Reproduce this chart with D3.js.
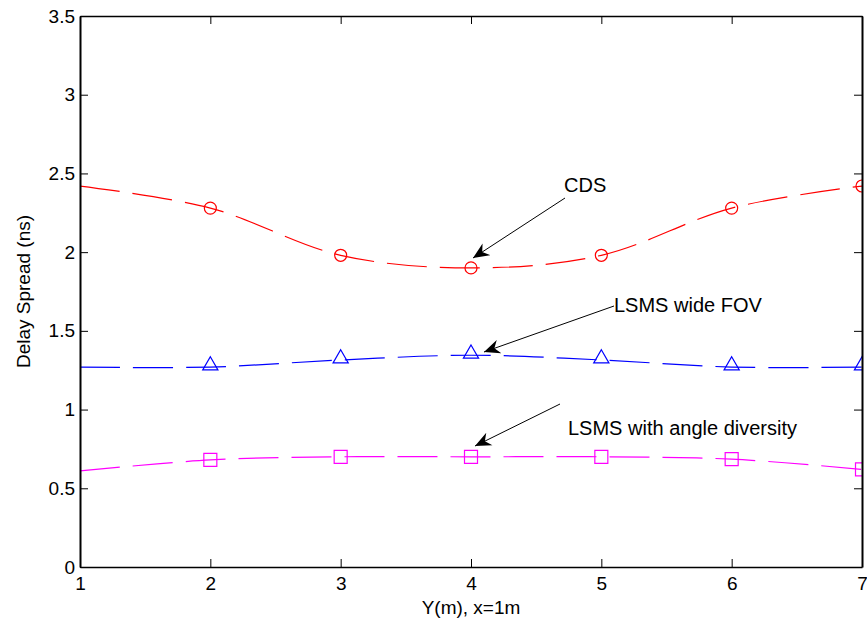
<!DOCTYPE html>
<html>
<head>
<meta charset="utf-8">
<script src="https://cdn.jsdelivr.net/npm/d3@7"></script>
<style>
  body { margin: 0; background: #fff; }
  text { font-family: "Liberation Sans", Arial, sans-serif; }
</style>
</head>
<body>
<div id="chart"></div>
<script>
// data
var yPos = [1, 2, 3, 4, 5, 6, 7];
var cds = [2.42, 2.28, 1.98, 1.90, 1.98, 2.28, 2.42];
var lsmsWide = [1.27, 1.27, 1.315, 1.345, 1.315, 1.27, 1.27];
var lsmsAngle = [0.61, 0.68, 0.70, 0.70, 0.70, 0.685, 0.62];
var xTicks = [1, 2, 3, 4, 5, 6, 7];
var yTicks = [0, 0.5, 1, 1.5, 2, 2.5, 3, 3.5];

var W = 867, H = 623;
var pLeft = 80, pRight = 862, pTop = 16, pBottom = 567;

var svg = d3.select("#chart").append("svg")
    .attr("width", W)
    .attr("height", H);

var x = d3.scaleLinear().domain([1, 7]).range([pLeft, pRight]);
var y = d3.scaleLinear().domain([0, 3.5]).range([pBottom, pTop]);

var defs = svg.append("defs");
defs.append("clipPath")
    .attr("id", "plotclip")
    .append("rect")
    .attr("x", pLeft).attr("y", pTop)
    .attr("width", pRight - pLeft).attr("height", pBottom - pTop);

defs.append("marker")
    .attr("id", "head")
    .attr("viewBox", "-16 -8 17 16")
    .attr("refX", 0).attr("refY", 0)
    .attr("markerWidth", 17).attr("markerHeight", 16)
    .attr("markerUnits", "userSpaceOnUse")
    .attr("orient", "auto")
    .append("path")
    .attr("d", "M0,0 L-16,-7 L-11,0 L-16,7 Z")
    .attr("fill", "#000");

// series
var series = [
  { vals: cds, color: "#ff0000", marker: "circle" },
  { vals: lsmsWide, color: "#0000ff", marker: "triangle" },
  { vals: lsmsAngle, color: "#ff00ff", marker: "square" }
];

var plot = svg.append("g").attr("clip-path", "url(#plotclip)");

var line = d3.line()
    .x(function (d) { return x(d[0]); })
    .y(function (d) { return y(d[1]); })
    .curve(d3.curveCatmullRom.alpha(0.5));

series.forEach(function (s) {
  var pts = yPos.map(function (v, i) { return [v, s.vals[i]]; });
  plot.append("path")
      .datum(pts)
      .attr("fill", "none")
      .attr("stroke", s.color)
      .attr("stroke-width", 1.2)
      .attr("stroke-dasharray", "40,13")
      .attr("d", line);

  var sym;
  if (s.marker === "circle") sym = d3.symbol().type(d3.symbolCircle).size(Math.PI * 36);
  else if (s.marker === "triangle") sym = d3.symbol().type(d3.symbolTriangle).size(100);
  else sym = d3.symbol().type(d3.symbolSquare).size(169);

  plot.selectAll(null)
      .data(pts.slice(1))
      .enter()
      .append("path")
      .attr("transform", function (d) {
        var dy = s.marker === "triangle" ? -1.5 : 0;
        return "translate(" + x(d[0]) + "," + (y(d[1]) + dy) + ")";
      })
      .attr("d", sym)
      .attr("fill", "none")
      .attr("stroke", s.color)
      .attr("stroke-width", 1.2);
});

// axes with inward ticks
svg.append("g")
    .attr("transform", "translate(0," + pBottom + ")")
    .call(d3.axisBottom(x).tickValues(xTicks).tickSizeInner(-8).tickSizeOuter(0).tickPadding(10).tickFormat(d3.format("d")))
    .call(function (g) {
      g.select(".domain").attr("stroke-width", 1.5);
      g.selectAll("text").attr("font-size", 19).attr("fill", "#000");
    });

svg.append("g")
    .attr("transform", "translate(" + pLeft + ",0)")
    .call(d3.axisLeft(y).tickValues(yTicks).tickSizeInner(-8).tickSizeOuter(0).tickPadding(5).tickFormat(function (d) { return d; }))
    .call(function (g) {
      g.select(".domain").attr("stroke-width", 2);
      g.selectAll("text").attr("font-size", 19).attr("fill", "#000");
    });

svg.append("g")
    .attr("transform", "translate(0," + pTop + ")")
    .call(d3.axisTop(x).tickValues(xTicks).tickSizeInner(-8).tickSizeOuter(0).tickFormat(""))
    .call(function (g) { g.select(".domain").attr("stroke-width", 1.5); });

svg.append("g")
    .attr("transform", "translate(" + pRight + ",0)")
    .call(d3.axisRight(y).tickValues(yTicks).tickSizeInner(-8).tickSizeOuter(0).tickFormat(""))
    .call(function (g) { g.select(".domain").attr("stroke-width", 2); });

// axis labels
svg.append("text")
    .attr("x", (pLeft + pRight) / 2)
    .attr("y", 614)
    .attr("text-anchor", "middle")
    .attr("font-size", 19)
    .text("Y(m), x=1m");

svg.append("text")
    .attr("transform", "translate(30," + (pTop + pBottom) / 2 + ") rotate(-90)")
    .attr("text-anchor", "middle")
    .attr("font-size", 19)
    .text("Delay Spread (ns)");

// annotations
var notes = [
  { label: "CDS", tx: 564, ty: 192, from: [565, 198], to: [473, 258] },
  { label: "LSMS wide FOV", tx: 614, ty: 312, from: [614, 306], to: [484, 352] },
  { label: "LSMS with angle diversity", tx: 568, ty: 435, from: [560, 404], to: [475, 446] }
];

notes.forEach(function (n) {
  svg.append("line")
      .attr("x1", n.from[0]).attr("y1", n.from[1])
      .attr("x2", n.to[0]).attr("y2", n.to[1])
      .attr("stroke", "#000")
      .attr("stroke-width", 1)
      .attr("marker-end", "url(#head)");
  svg.append("text")
      .attr("x", n.tx).attr("y", n.ty)
      .attr("font-size", 20)
      .text(n.label);
});
</script>
</body>
</html>
